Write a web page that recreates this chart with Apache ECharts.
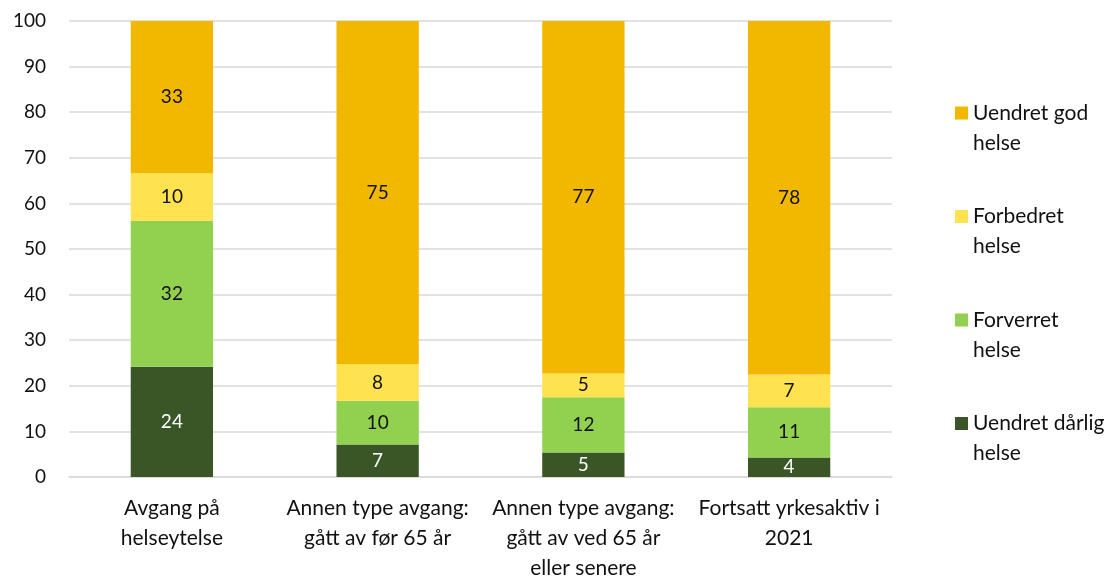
<!DOCTYPE html>
<html>
<head>
<meta charset="utf-8">
<script src="https://cdn.jsdelivr.net/npm/echarts@6/dist/echarts.min.js"></script>
<style>
  html, body { margin: 0; padding: 0; background: #fff; }
  #chart { width: 1114px; height: 578px; }
</style>
</head>
<body>
<div id="chart"></div>
<script>
// Groups along the x axis
const categories = [
  'Avgang på\nhelseytelse',
  'Annen type avgang:\ngått av før 65 år',
  'Annen type avgang:\ngått av ved 65 år\neller senere',
  'Fortsatt yrkesaktiv i\n2021'
];

// Share (per cent) in each health group, stacked from the bottom
const uendretDarlig = [24.2, 7.1, 5.4, 4.3];
const forverret     = [32.0, 9.6, 12.1, 11.0];
const forbedret     = [10.4, 8.1, 5.2, 7.2];
const uendretGod    = [33.4, 75.2, 77.3, 77.5];

const seriesNames = ['Uendret dårlig helse', 'Forverret helse', 'Forbedret helse', 'Uendret god helse'];
const legendText = {
  'Uendret god helse': 'Uendret god\nhelse',
  'Forbedret helse': 'Forbedret\nhelse',
  'Forverret helse': 'Forverret\nhelse',
  'Uendret dårlig helse': 'Uendret dårlig\nhelse'
};

const yTicks = { min: 0, max: 100, interval: 10 };

const FONT = 'Lato';
const FS_NUM = 19;
const FS_TEXT = 21;

function makeSeries(name, data, color, labelColor) {
  return {
    name: name,
    type: 'bar',
    stack: 'total',
    data: data,
    barCategoryGap: '60%',
    itemStyle: { color: color },
    label: {
      show: true,
      position: 'inside',
      color: labelColor,
      fontFamily: FONT,
      fontSize: FS_NUM,
      formatter: p => Math.round(p.value)
    },
    emphasis: { disabled: true }
  };
}

const chart = echarts.init(document.getElementById('chart'), null, { renderer: 'canvas' });
chart.setOption({
  animation: false,
  backgroundColor: '#ffffff',
  grid: { left: 69, right: 222, top: 21, bottom: 101, containLabel: false, outerBoundsMode: 'none' },
  legend: {
    orient: 'vertical',
    left: 950,
    top: 63,
    itemWidth: 13,
    itemHeight: 13,
    itemGap: 13.5,
    icon: 'rect',
    data: ['Uendret god helse', 'Forbedret helse', 'Forverret helse', 'Uendret dårlig helse'],
    formatter: n => '\n' + legendText[n],
    textStyle: { fontFamily: FONT, fontSize: FS_TEXT, color: '#111', lineHeight: 30 }
  },
  xAxis: {
    type: 'category',
    data: categories,
    axisLine: { show: true, lineStyle: { color: '#d9d9d9', width: 1.5 } },
    axisTick: { show: false },
    axisLabel: {
      interval: 0,
      margin: 16,
      fontFamily: FONT,
      fontSize: FS_TEXT,
      lineHeight: 30,
      color: '#111',
      align: 'center'
    }
  },
  yAxis: {
    type: 'value',
    min: yTicks.min,
    max: yTicks.max,
    interval: yTicks.interval,
    axisLine: { show: false },
    axisTick: { show: false },
    splitLine: { lineStyle: { color: '#d9d9d9', width: 1.5 } },
    axisLabel: { margin: 23, fontFamily: FONT, fontSize: FS_NUM, color: '#111' }
  },
  series: [
    makeSeries(seriesNames[0], uendretDarlig, '#3a5626', '#ffffff'),
    makeSeries(seriesNames[1], forverret, '#92d050', '#111'),
    makeSeries(seriesNames[2], forbedret, '#ffe24f', '#111'),
    makeSeries(seriesNames[3], uendretGod, '#f2b800', '#111')
  ]
});
</script>
</body>
</html>
